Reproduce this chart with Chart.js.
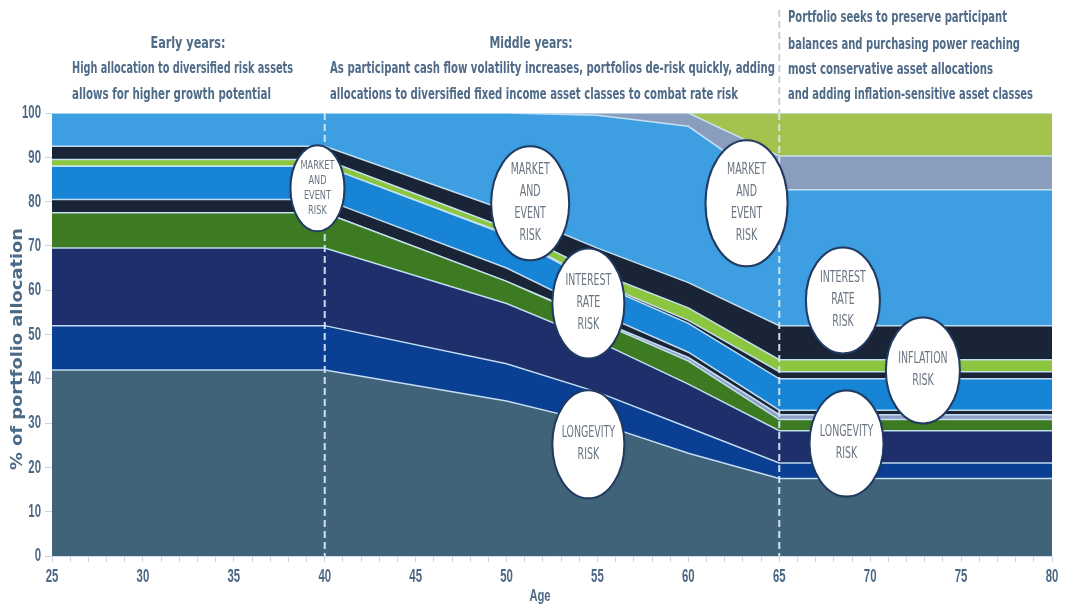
<!DOCTYPE html>
<html>
<head>
<meta charset="utf-8">
<script src="https://cdn.jsdelivr.net/npm/chart.js@4.4.1/dist/chart.umd.min.js"></script>
<style>
  html, body { margin: 0; padding: 0; background: #fff; }
  #wrap { width: 1066px; height: 609px; }
</style>
</head>
<body>
<div id="wrap"><canvas id="glidePath" width="1066" height="609"></canvas></div>
<script>
// Ages where the allocation bands change slope
const ages = [25, 40, 50, 55, 60, 65, 80];

// Band thicknesses (% of portfolio), listed bottom to top
const tealBase   = [42, 42, 35, 30, 23.2, 17.5, 17.5];
const royalBlue  = [10, 10, 8.4, 7, 5.8, 3.5, 3.5];
const navyBand   = [17.5, 17.5, 13.6, 11.5, 9.8, 7.3, 7.3];
const greenBand  = [8, 8, 5, 4.5, 5.2, 2.5, 2.5];
const lilacThin  = [0, 0, 0, 0.3, 0.8, 1.1, 1.1];
const darkLow    = [3, 3, 3, 1.7, 1.2, 1, 1];
const midBlue    = [7.5, 7.5, 7.5, 6.5, 6.5, 7.1, 7.1];
const darkMid    = [0, 0, 0.2, 0.3, 0.7, 1.6, 1.6];
const limeBand   = [1.5, 1.5, 1.3, 2.2, 2.8, 2.7, 2.7];
const darkHigh   = [3, 3, 4, 5.5, 5.7, 7.7, 7.7];
const skyBlue    = [7.5, 7.5, 22, 30, 35.3, 30.7, 30.7];
const slateTop   = [0, 0, 0, 0.5, 3, 7.6, 7.6];
const oliveTop   = [0, 0, 0, 0, 0, 9.7, 9.7];

const yTicks = [0, 10, 20, 30, 40, 50, 60, 70, 80, 90, 100];
const ageLabels = [25, 30, 35, 40, 45, 50, 55, 60, 65, 70, 75, 80];

// Risk bubbles: centre in data units, radii in px
const bubbles = [
  { age: 39.6, pct: 83,   rx: 27, ry: 43, size: 13, gap: 15, lines: ['MARKET', 'AND', 'EVENT', 'RISK'] },
  { age: 51.3, pct: 79.6, rx: 39, ry: 57, size: 15, gap: 22, lines: ['MARKET', 'AND', 'EVENT', 'RISK'] },
  { age: 54.5, pct: 57,   rx: 36, ry: 55, size: 15, gap: 22, lines: ['INTEREST', 'RATE', 'RISK'] },
  { age: 54.5, pct: 25.2, rx: 36, ry: 54, size: 15, gap: 22, lines: ['LONGEVITY', 'RISK'] },
  { age: 63.2, pct: 79.6, rx: 41, ry: 63, size: 15, gap: 22, lines: ['MARKET', 'AND', 'EVENT', 'RISK'] },
  { age: 68.5, pct: 57.7, rx: 37, ry: 53, size: 15, gap: 22, lines: ['INTEREST', 'RATE', 'RISK'] },
  { age: 72.9, pct: 41.9, rx: 37, ry: 53, size: 15, gap: 22, lines: ['INFLATION', 'RISK'] },
  { age: 68.7, pct: 25.4, rx: 37, ry: 53, size: 15, gap: 22, lines: ['LONGEVITY', 'RISK'] }
];

// phase dividers: age and how far above the plot they reach (px)
const phaseMarkers = [{ age: 40, rise: 0 }, { age: 65, rise: 103 }];

const NARROW = '"Liberation Sans Narrow", "DejaVu Sans Condensed", sans-serif';
const inkBlue = '#4d6986';

const bands = [
  { name: 'tealBase',  data: tealBase,  color: '#41637a' },
  { name: 'royalBlue', data: royalBlue, color: '#0a3f93' },
  { name: 'navyBand',  data: navyBand,  color: '#1e2f6c' },
  { name: 'greenBand', data: greenBand, color: '#3d7b22' },
  { name: 'lilacThin', data: lilacThin, color: '#8e9ec6' },
  { name: 'darkLow',   data: darkLow,   color: '#1a2437' },
  { name: 'midBlue',   data: midBlue,   color: '#1784d5' },
  { name: 'darkMid',   data: darkMid,   color: '#1a2437' },
  { name: 'limeBand',  data: limeBand,  color: '#8cc540' },
  { name: 'darkHigh',  data: darkHigh,  color: '#1a2437' },
  { name: 'skyBlue',   data: skyBlue,   color: '#3d9fe2' },
  { name: 'slateTop',  data: slateTop,  color: '#8b9dbd' },
  { name: 'oliveTop',  data: oliveTop,  color: '#a4c24e' }
];

const datasets = bands.map((b, i) => ({
  label: b.name,
  data: b.data.map((v, j) => ({ x: ages[j], y: v })),
  backgroundColor: b.color,
  borderColor: 'rgba(200,228,246,0.95)',
  borderWidth: 1.5,
  pointRadius: 0,
  tension: 0,
  fill: i === 0 ? 'origin' : '-1'
}));

// squeeze or stretch a line of text to a given width
function fitText(ctx, text, x, y, width, align) {
  const w = ctx.measureText(text).width;
  const k = width / w;
  ctx.save();
  let left = x;
  if (align === 'center') left = x - width / 2;
  ctx.translate(left, y);
  ctx.scale(k, 1);
  ctx.textAlign = 'left';
  ctx.fillText(text, 0, 0);
  ctx.restore();
}

// draw text horizontally condensed by factor k
function condensedText(ctx, text, x, y, k, align) {
  ctx.save();
  ctx.translate(x, y);
  ctx.scale(k, 1);
  ctx.textAlign = align || 'center';
  ctx.fillText(text, 0, 0);
  ctx.restore();
}

const headerPlugin = {
  id: 'headerNotes',
  afterDraw(chart) {
    const ctx = chart.ctx;
    ctx.save();
    ctx.fillStyle = '#4f6b88';
    ctx.font = 'bold 16px ' + NARROW;
    ctx.textBaseline = 'middle';
    fitText(ctx, 'Early years:', 188, 44, 75, 'center');
    fitText(ctx, 'High allocation to diversified risk assets', 72, 69, 221, 'left');
    fitText(ctx, 'allows for higher growth potential', 72, 95, 199, 'left');
    fitText(ctx, 'Middle years:', 531, 44, 83, 'center');
    fitText(ctx, 'As participant cash flow volatility increases, portfolios de-risk quickly, adding', 330, 69, 445, 'left');
    fitText(ctx, 'allocations to diversified fixed income asset classes to combat rate risk', 330, 95, 408, 'left');
    fitText(ctx, 'Portfolio seeks to preserve participant', 788, 18, 219, 'left');
    fitText(ctx, 'balances and purchasing power reaching', 788, 45, 232, 'left');
    fitText(ctx, 'most conservative asset allocations', 788, 70, 205, 'left');
    fitText(ctx, 'and adding inflation-sensitive asset classes', 788, 95, 245, 'left');
    ctx.restore();
  }
};

// narrow axis numbers and titles, placed through the chart scales
const axisTextPlugin = {
  id: 'axisText',
  afterDraw(chart) {
    const ctx = chart.ctx;
    const xs = chart.scales.x, ys = chart.scales.y;
    const area = chart.chartArea;
    ctx.save();
    ctx.fillStyle = inkBlue;
    ctx.textBaseline = 'middle';
    ctx.font = 'bold 19px "Liberation Sans", Arial, sans-serif';
    yTicks.forEach(v => condensedText(ctx, String(v), 41, ys.getPixelForValue(v), 0.6, 'right'));
    ageLabels.forEach(a => condensedText(ctx, String(a), xs.getPixelForValue(a), 577, 0.6, 'center'));
    ctx.font = 'bold 16px "Liberation Sans", Arial, sans-serif';
    condensedText(ctx, 'Age', (area.left + area.right) / 2 - 12, 597, 0.7, 'center');

    ctx.translate(18, 349);
    ctx.rotate(-Math.PI / 2);
    ctx.fillStyle = '#4a6a88';
    ctx.font = 'bold 16px "DejaVu Sans", sans-serif';
    fitText(ctx, '% of portfolio allocation', 0, 0, 242, 'center');
    ctx.restore();
  }
};

const bubblePlugin = {
  id: 'riskBubbles',
  afterDatasetsDraw(chart) {
    const ctx = chart.ctx;
    const xs = chart.scales.x, ys = chart.scales.y;
    const area = chart.chartArea;

    ctx.save();
    ctx.lineWidth = 2;
    ctx.setLineDash([7, 4]);
    phaseMarkers.forEach(m => {
      const px = xs.getPixelForValue(m.age);
      ctx.strokeStyle = 'rgba(214,230,243,0.95)';
      ctx.beginPath();
      ctx.moveTo(px, area.top);
      ctx.lineTo(px, area.bottom);
      ctx.stroke();
      if (m.rise) {
        ctx.strokeStyle = '#c3d2df';
        ctx.beginPath();
        ctx.moveTo(px, area.top - m.rise);
        ctx.lineTo(px, area.top);
        ctx.stroke();
      }
    });
    ctx.restore();

    bubbles.forEach(b => {
      const cx = xs.getPixelForValue(b.age);
      const cy = ys.getPixelForValue(b.pct);
      ctx.save();
      ctx.beginPath();
      ctx.ellipse(cx, cy, b.rx, b.ry, 0, 0, Math.PI * 2);
      ctx.fillStyle = '#ffffff';
      ctx.shadowColor = 'rgba(0,0,0,0.25)';
      ctx.shadowBlur = 3;
      ctx.fill();
      ctx.shadowColor = 'transparent';
      ctx.lineWidth = 2;
      ctx.strokeStyle = '#203a62';
      ctx.stroke();
      ctx.fillStyle = '#6a7581';
      ctx.font = b.size + 'px ' + NARROW;
      ctx.textBaseline = 'middle';
      const top = cy - (b.lines.length - 1) * b.gap / 2;
      b.lines.forEach((t, i) => condensedText(ctx, t, cx, top + i * b.gap, 0.7));
      ctx.restore();
    });
  }
};

new Chart(document.getElementById('glidePath'), {
  type: 'line',
  data: { datasets },
  options: {
    responsive: false,
    animation: false,
    layout: { padding: { left: 0, top: 113, right: 14, bottom: 0 } },
    plugins: {
      legend: { display: false },
      tooltip: { enabled: false }
    },
    scales: {
      x: {
        type: 'linear',
        min: 25,
        max: 80,
        afterFit: s => { s.height = 53; },
        border: { display: true, color: '#d3e1ee' },
        grid: { drawOnChartArea: false, drawTicks: true, tickLength: 6, color: '#c9d3dd' },
        ticks: {
          stepSize: 1,
          autoSkip: false,
          maxRotation: 0,
          callback: () => ''
        }
      },
      y: {
        stacked: true,
        min: 0,
        max: 100,
        afterFit: s => { s.width = 52; },
        afterBuildTicks: s => { s.ticks = yTicks.map(v => ({ value: v })); },
        border: { display: false },
        grid: { drawOnChartArea: false, drawTicks: true, tickLength: 7, color: '#c9d3dd' },
        ticks: { callback: () => '' }
      }
    }
  },
  plugins: [bubblePlugin, axisTextPlugin, headerPlugin]
});
</script>
</body>
</html>
